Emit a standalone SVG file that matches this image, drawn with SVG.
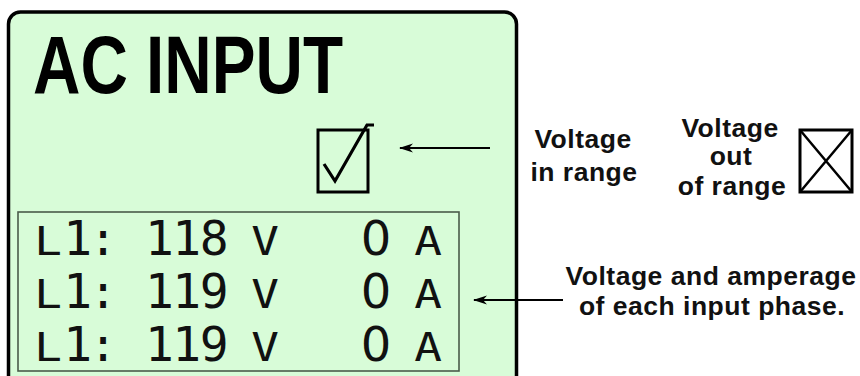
<svg xmlns="http://www.w3.org/2000/svg" width="860" height="376" viewBox="0 0 860 376">
<style>
.lbl{font-family:"Liberation Sans",Arial,sans-serif;font-weight:bold;font-size:26.5px;letter-spacing:0.5px;fill:#111;text-anchor:middle}
.dig{font-family:"DejaVu Sans Mono",monospace;font-size:48px;fill:#111;text-anchor:middle;letter-spacing:-1.5px}
.zero{font-family:"DejaVu Sans",sans-serif;font-size:48px;fill:#111;text-anchor:middle}
.let{font-family:"DejaVu Sans Mono",monospace;font-size:46px;fill:#111;text-anchor:middle}
.conn{stroke:#000;stroke-width:2.2;fill:none}
</style>
<defs>
<marker id="ah" viewBox="0 0 14 10" refX="13" refY="5" markerWidth="14" markerHeight="10" markerUnits="userSpaceOnUse" orient="auto">
<path d="M14,5 L0,0.6 L4,5 L0,9.4 Z" fill="#000"/>
</marker>
</defs>
<rect width="860" height="376" fill="#fff"/>
<g id="panel">
<rect x="8.5" y="12" width="508" height="380" rx="12" fill="#d8fcd8" stroke="#000" stroke-width="3.5"/>
<text x="33" y="93" font-family="'Liberation Sans',Arial,sans-serif" font-weight="bold" font-size="82" fill="#000" textLength="310" lengthAdjust="spacingAndGlyphs">AC INPUT</text>
</g>
<g id="check-box">
<rect x="318" y="130" width="50" height="62" fill="none" stroke="#000" stroke-width="3"/>
<path d="M324,164 L335,181 L367,125 L374,125" fill="none" stroke="#000" stroke-width="3.2" stroke-linejoin="miter"/>
</g>
<g id="readout">
<rect x="18" y="212" width="441" height="159" fill="none" stroke="#4a5a4a" stroke-width="1.6"/>
<g transform="translate(48,255) scale(1,0.835)"><text class="let" x="0" y="0">L</text></g>
<text class="dig" x="77" y="255">1</text>
<text class="let" x="103" y="255">:</text>
<text class="dig" x="186" y="255">118</text>
<g transform="translate(265,255) scale(1,0.835)"><text class="let" x="0" y="0">V</text></g>
<text class="zero" x="376" y="255">0</text>
<g transform="translate(428,255) scale(1,0.835)"><text class="let" x="0" y="0">A</text></g>

<g transform="translate(48,308) scale(1,0.835)"><text class="let" x="0" y="0">L</text></g>
<text class="dig" x="77" y="308">1</text>
<text class="let" x="103" y="308">:</text>
<text class="dig" x="186" y="308">119</text>
<g transform="translate(265,308) scale(1,0.835)"><text class="let" x="0" y="0">V</text></g>
<text class="zero" x="376" y="308">0</text>
<g transform="translate(428,308) scale(1,0.835)"><text class="let" x="0" y="0">A</text></g>

<g transform="translate(48,361) scale(1,0.835)"><text class="let" x="0" y="0">L</text></g>
<text class="dig" x="77" y="361">1</text>
<text class="let" x="103" y="361">:</text>
<text class="dig" x="186" y="361">119</text>
<g transform="translate(265,361) scale(1,0.835)"><text class="let" x="0" y="0">V</text></g>
<text class="zero" x="376" y="361">0</text>
<g transform="translate(428,361) scale(1,0.835)"><text class="let" x="0" y="0">A</text></g>
</g>
<g id="label-in-range">
<text class="lbl" x="583" y="148">Voltage</text>
<text class="lbl" x="584" y="181">in range</text>
</g>
<g id="label-out-of-range">
<text class="lbl" x="730" y="137">Voltage</text>
<text class="lbl" x="731" y="165">out</text>
<text class="lbl" x="732" y="195">of range</text>
</g>
<g id="x-box">
<rect x="800" y="130" width="52" height="62" fill="none" stroke="#000" stroke-width="3"/>
<path d="M800,130 L852,192 M852,130 L800,192" stroke="#000" stroke-width="2.5" fill="none"/>
</g>
<g id="label-phase">
<text class="lbl" x="711" y="285">Voltage and amperage</text>
<text class="lbl" x="712" y="315">of each input phase.</text>
</g>
<g id="connectors">
<line class="conn" x1="490" y1="148" x2="400" y2="148" marker-end="url(#ah)"/>
<line class="conn" x1="563" y1="300" x2="474" y2="300" marker-end="url(#ah)"/>
</g>
</svg>
